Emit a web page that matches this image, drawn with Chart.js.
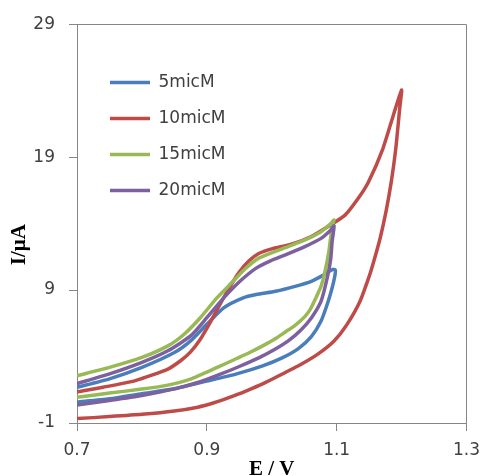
<!DOCTYPE html>
<html>
<head>
<meta charset="utf-8">
<script src="https://cdn.jsdelivr.net/npm/chart.js@4.4.1/dist/chart.umd.min.js"></script>
<style>
html,body{margin:0;padding:0;background:#ffffff;}
#wrap{width:489px;height:476px;}
</style>
</head>
<body>
<div id="wrap"><canvas id="c" width="489" height="476"></canvas></div>
<script>
// ---- data ----
const seriesNames = ['5micM', '10micM', '15micM', '20micM'];
const xTicks = [0.7, 0.9, 1.1, 1.3];
const yTicks = [-1, 9, 19, 29];
const xTitle = 'E / V';
const yTitle = 'I/μA';

// 5micM (forward scan, then reverse scan)
const e5 = [0.700,0.750,0.800,0.850,0.875,0.900,0.926,0.956,0.976,1.006,1.036,1.061,1.081,1.094,1.098,
            1.097,1.093,1.086,1.076,1.061,1.041,1.016,0.986,0.946,0.900,0.850,0.800,0.750,0.700];
const i5 = [1.69,2.32,3.18,4.30,5.18,6.42,7.66,8.41,8.66,8.91,9.28,9.66,10.16,10.55,10.5,
            10.0,9.16,8.01,6.67,5.5,4.6,3.9,3.3,2.7,2.15,1.57,1.20,0.82,0.57];

// 10micM
const e10 = [0.700,0.740,0.790,0.840,0.860,0.875,0.890,0.905,0.920,0.935,0.950,0.965,0.980,1.000,1.030,1.060,1.086,1.113,1.133,1.149,1.171,1.187,1.200,
             1.197,1.191,1.184,1.176,1.167,1.158,1.151,1.136,1.116,1.096,1.071,1.046,1.011,0.986,0.961,0.936,0.911,0.886,0.850,0.800,0.750,0.700];
const i10 = [1.35,1.69,2.19,3.06,3.7,4.35,5.3,6.55,7.9,9.2,10.35,11.2,11.75,12.1,12.45,13.0,13.76,14.64,15.88,17.13,19.61,22.1,24.05,
             22.6,19.6,17.1,14.9,12.9,11.3,10.16,8.16,6.42,5.17,4.18,3.44,2.55,1.94,1.42,0.94,0.52,0.19,-0.10,-0.35,-0.52,-0.67];

// 15micM
const e15 = [0.700,0.750,0.800,0.840,0.865,0.890,0.9155,0.9406,0.958,0.980,1.021,1.051,1.076,1.091,1.096,
             1.093,1.088,1.081,1.076,1.068,1.060,1.051,1.036,1.021,1.006,0.986,0.966,0.946,0.916,0.875,0.840,0.800,0.750,0.700];
const i15 = [2.56,3.18,3.93,4.80,5.68,6.92,8.41,9.66,10.55,11.4,12.2,12.77,13.39,14.01,14.27,
             13.76,11.9,10.16,9.3,8.41,7.6,7.0,6.35,5.85,5.35,4.8,4.3,3.85,3.18,2.3,1.85,1.55,1.25,0.94];

// 20micM
const e20 = [0.700,0.750,0.800,0.840,0.875,0.900,0.926,0.951,0.976,0.998,1.021,1.051,1.076,1.091,1.096,
             1.093,1.091,1.086,1.076,1.061,1.045,1.026,1.005,0.980,0.950,0.920,0.890,0.850,0.800,0.750,0.700];
const i20 = [1.96,2.69,3.56,4.43,5.55,6.92,8.41,9.66,10.65,11.2,11.65,12.27,12.89,13.52,13.84,
             12.64,11.4,10.03,8.16,6.9,6.0,5.2,4.55,3.9,3.25,2.65,2.1,1.57,1.07,0.70,0.36];

// ---- styling ----
const FONT = 'DejaVu Sans';
const AXIS = '#868686';
const TEXT = '#404040';
const colors = ['#4A7EBB', '#BE4B48', '#98B954', '#7D60A0'];

function mk(name, es, is, color, order) {
  return {
    label: name,
    data: es.map((x, k) => ({ x: x, y: is[k] })),
    showLine: true,
    fill: false,
    borderColor: color,
    backgroundColor: color,
    borderWidth: 3.5,
    pointRadius: 0,
    pointHoverRadius: 0,
    pointBorderWidth: 3.5,
    pointBorderColor: color,
    pointBackgroundColor: color,
    tension: 0.2,
    order: order
  };
}

const legendShift = {
  id: 'legendShift',
  afterLayout(chart) {
    const lg = chart.legend;
    if (!lg) return;
    const dx = 91 - lg.left;
    const dy = 55 - lg.top;
    lg.left += dx; lg.right += dx;
    lg.top += dy; lg.bottom += dy;
  }
};

const frame = {
  id: 'frame',
  afterDraw(chart) {
    const a = chart.chartArea;
    const ctx = chart.ctx;
    const xr = Math.round(a.right - 0.5) + 0.5;
    const yt = Math.round(a.top - 0.5) + 0.5;
    ctx.save();
    ctx.strokeStyle = AXIS;
    ctx.lineWidth = 1;
    ctx.beginPath();
    ctx.moveTo(a.left, yt);
    ctx.lineTo(xr, yt);
    ctx.lineTo(xr, a.bottom);
    ctx.stroke();
    ctx.restore();
  }
};

new Chart(document.getElementById('c'), {
  type: 'scatter',
  data: {
    datasets: [
      mk(seriesNames[0], e5, i5, colors[0], 4),
      mk(seriesNames[1], e10, i10, colors[1], 3),
      mk(seriesNames[2], e15, i15, colors[2], 2),
      mk(seriesNames[3], e20, i20, colors[3], 1)
    ]
  },
  options: {
    responsive: false,
    animation: false,
    layout: { padding: { top: 21, right: 13, bottom: 0, left: 0 } },
    plugins: {
      tooltip: { enabled: false },
      legend: {
        position: 'chartArea',
        align: 'start',
        labels: {
          usePointStyle: true,
          pointStyle: 'line',
          pointStyleWidth: 40,
          padding: 19,
          color: TEXT,
          font: { family: FONT, size: 17 },
          sort: (a, b) => a.datasetIndex - b.datasetIndex
        }
      }
    },
    scales: {
      x: {
        type: 'linear',
        min: xTicks[0],
        max: xTicks[xTicks.length - 1],
        afterBuildTicks: s => { s.ticks = xTicks.map(v => ({ value: v })); },
        afterFit: s => { s.height = 53; },
        grid: { display: true, drawOnChartArea: false, drawTicks: true, tickLength: 8, color: AXIS },
        border: { display: true, color: AXIS, width: 1 },
        ticks: {
          padding: 9, color: TEXT, font: { family: FONT, size: 17 },
          maxRotation: 0, autoSkip: false,
          callback: v => Number(v).toFixed(1)
        },
        title: {
          display: true, text: xTitle, color: '#000',
          font: { family: 'Liberation Serif', size: 21, weight: 'bold' },
          padding: { top: 0, bottom: -6 }
        }
      },
      y: {
        type: 'linear',
        min: yTicks[0],
        max: yTicks[yTicks.length - 1],
        afterBuildTicks: s => { s.ticks = yTicks.map(v => ({ value: v })); },
        afterFit: s => { s.width = 77; },
        grid: { display: true, drawOnChartArea: false, drawTicks: true, tickLength: 8, color: AXIS },
        border: { display: true, color: AXIS, width: 1 },
        ticks: {
          padding: 14, color: TEXT, font: { family: FONT, size: 17 },
          autoSkip: false,
          callback: v => String(v)
        },
        title: {
          display: true, text: yTitle + '\u2003\u2003', color: '#000',
          font: { family: 'Liberation Serif', size: 21, weight: 'bold' },
          padding: { top: 7, bottom: 0 }
        }
      }
    }
  },
  plugins: [legendShift, frame]
});
</script>
</body>
</html>
